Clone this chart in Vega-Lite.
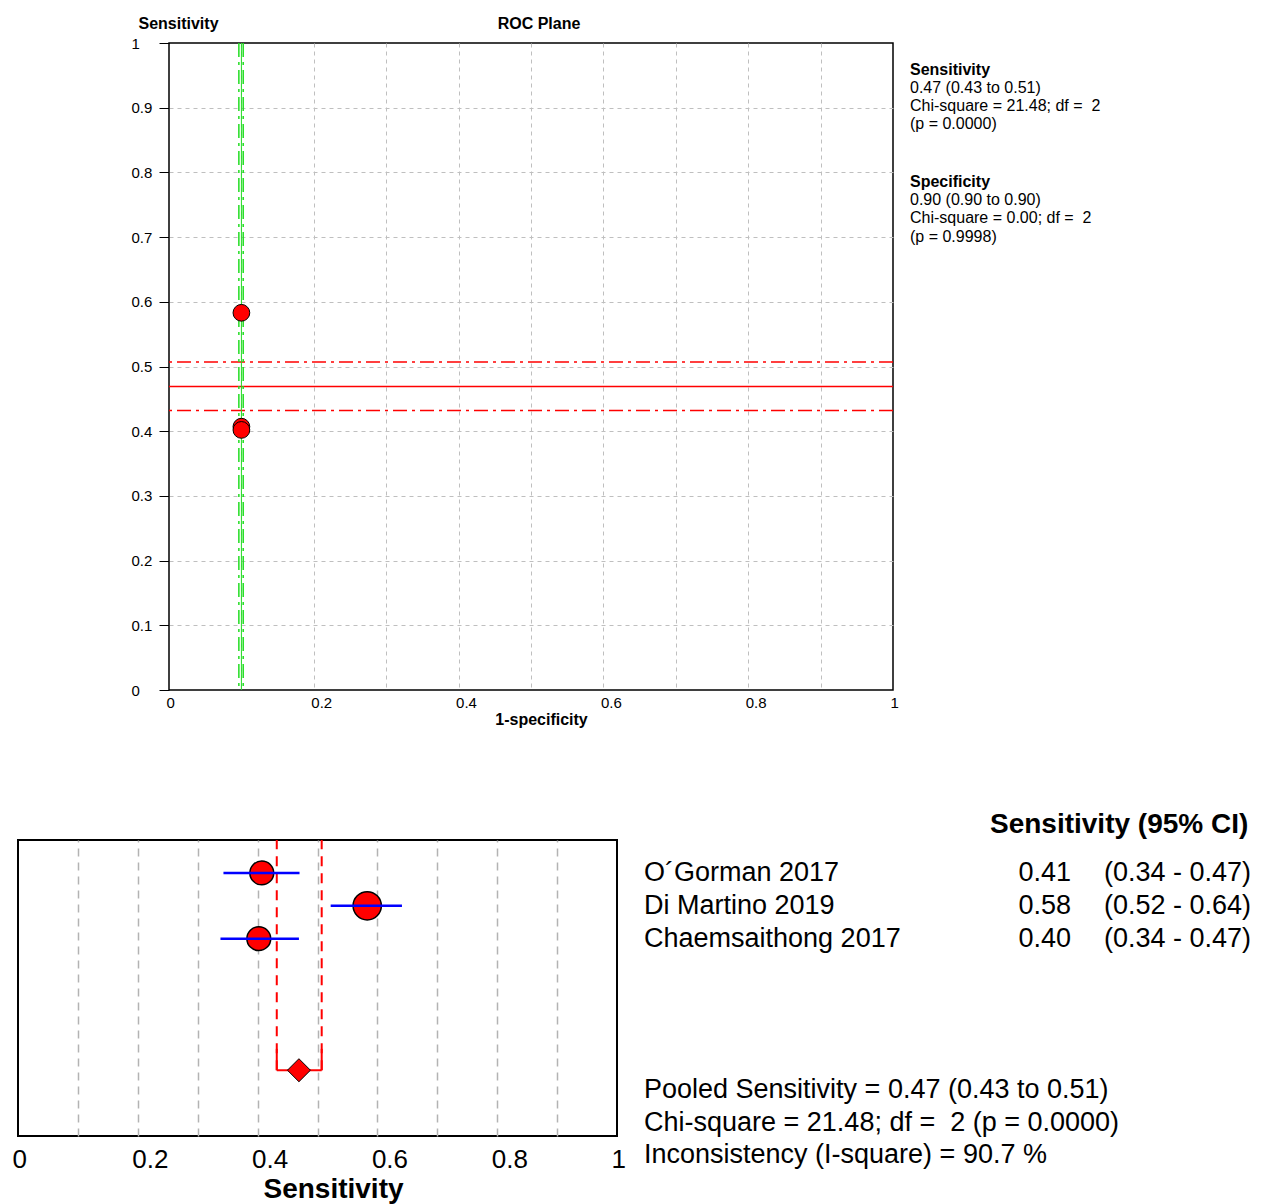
{
  "$schema": "https://vega.github.io/schema/vega-lite/v6.json",
  "padding": {"left": 11, "top": 14, "right": 0, "bottom": 0},
  "background": "white",
  "config": {
    "font": "Liberation Sans",
    "axis": {"labelColor": "#000", "titleColor": "#000", "domain": false},
    "view": {"stroke": null}
  },
  "datasets": {
    "studies": [
      {"study": "O´Gorman 2017", "row": 1, "sens": 0.407, "lo": 0.343, "hi": 0.470, "est": "0.41", "ci": "(0.34 - 0.47)", "fpr": 0.10, "weight": 0.71},
      {"study": "Di Martino 2019", "row": 2, "sens": 0.583, "lo": 0.522, "hi": 0.641, "est": "0.58", "ci": "(0.52 - 0.64)", "fpr": 0.10, "weight": 1.0},
      {"study": "Chaemsaithong 2017", "row": 3, "sens": 0.402, "lo": 0.338, "hi": 0.469, "est": "0.40", "ci": "(0.34 - 0.47)", "fpr": 0.10, "weight": 0.71}
    ],
    "pooled": [
      {"row": 7, "sens": 0.469, "lo": 0.432, "hi": 0.507, "fpr": 0.100, "fpr_lo": 0.0965, "fpr_hi": 0.1025}
    ],
    "roc_notes": [
      {"line": 0, "bold": true, "text": "Sensitivity"},
      {"line": 1, "bold": false, "text": "0.47 (0.43 to 0.51)"},
      {"line": 2, "bold": false, "text": "Chi-square = 21.48; df = \u00a02"},
      {"line": 3, "bold": false, "text": "\u00a0(p = 0.0000)"},
      {"line": 6.25, "bold": true, "text": "Specificity"},
      {"line": 7.25, "bold": false, "text": "0.90 (0.90 to 0.90)"},
      {"line": 8.25, "bold": false, "text": "Chi-square = 0.00; df = \u00a02"},
      {"line": 9.3, "bold": false, "text": "\u00a0(p = 0.9998)"}
    ],
    "table_header": [
      {"row": -0.46, "text": "Sensitivity (95% CI)"}
    ],
    "pooled_notes": [
      {"row": 7.6, "text": "Pooled Sensitivity = 0.47 (0.43 to 0.51)"},
      {"row": 8.6, "text": "Chi-square = 21.48; df = \u00a02 (p = 0.0000)"},
      {"row": 9.58, "text": "Inconsistency (I-square) = 90.7 %"}
    ]
  },
  "spacing": 82,
  "vconcat": [
    {
      "spacing": 10,
      "hconcat": [
        {
          "data": {"name": "pooled"},
          "width": 102,
          "height": 10,
          "view": {"stroke": null},
          "mark": {"type": "text", "text": ""},
          "encoding": {
            "x": {"datum": 0, "type": "quantitative", "scale": {"domain": [0, 1]}, "axis": null},
            "y": {"datum": 0, "type": "quantitative", "scale": {"domain": [0, 1]}, "axis": null}
          }
        },
        {
          "width": 724,
          "height": 647,
          "view": {"stroke": "#000", "strokeWidth": 1.5},
          "title": {"text": "ROC Plane", "fontSize": 16, "fontWeight": "bold", "frame": "group", "anchor": "middle", "dx": 8, "offset": -17, "color": "#000"},
          "layer": [
            {
              "data": {"name": "studies"},
              "mark": {"type": "point", "shape": "circle", "opacity": 0},
              "encoding": {
                "x": {
                  "field": "fpr", "type": "quantitative", "scale": {"domain": [0, 1], "nice": false},
                  "axis": {
                    "title": "1-specificity",
                    "values": [0, 0.1, 0.2, 0.3, 0.4, 0.5, 0.6, 0.7, 0.8, 0.9, 1],
                    "labelExpr": "abs(datum.value*10 - 2*round(datum.value*5)) < 0.01 ? format(datum.value, '.1~f') : ''",
                    "labelAlign": "left", "labelOffset": -3, "labelFlush": false, "labelOverlap": false,
                    "labelPadding": 5, "ticks": false, "tickSize": 0, "labelFontSize": 15,
                    "titleFontSize": 16, "titleFontWeight": "bold", "titleX": 372, "titleY": 29, "titleBaseline": "middle",
                    "grid": true, "gridColor": "#bfbfbf", "gridDash": [4, 4], "gridWidth": 1,
                    "gridOpacity": {"condition": {"test": "datum.value < 0.01 || datum.value > 0.99", "value": 0}, "value": 1}
                  }
                },
                "y": {
                  "field": "sens", "type": "quantitative", "scale": {"domain": [0, 1], "nice": false},
                  "axis": {
                    "title": "Sensitivity",
                    "values": [0, 0.1, 0.2, 0.3, 0.4, 0.5, 0.6, 0.7, 0.8, 0.9, 1],
                    "format": ".1~f",
                    "labelAlign": "left", "labelPadding": 28, "labelFontSize": 15, "labelFlush": false, "labelOverlap": false,
                    "ticks": true, "tickSize": 10, "tickColor": "#000", "tickWidth": 1,
                    "titleFontSize": 16, "titleFontWeight": "bold", "titleAngle": 0, "titleX": -31, "titleY": -20,
                    "titleAlign": "left", "titleBaseline": "middle",
                    "grid": true, "gridColor": "#bfbfbf", "gridDash": [4, 4], "gridWidth": 1,
                    "gridOpacity": {"condition": {"test": "datum.value < 0.01 || datum.value > 0.99", "value": 0}, "value": 1}
                  }
                }
              }
            },
            {
              "data": {"name": "pooled"},
              "mark": {"type": "rule", "color": "#ff0000", "strokeWidth": 1.5},
              "encoding": {"y": {"field": "sens", "type": "quantitative", "scale": {"domain": [0, 1], "nice": false}}}
            },
            {
              "data": {"name": "pooled"},
              "mark": {"type": "rule", "color": "#ff0000", "strokeWidth": 1.5, "strokeDash": [14, 5, 3, 5]},
              "encoding": {"y": {"field": "lo", "type": "quantitative", "scale": {"domain": [0, 1], "nice": false}}}
            },
            {
              "data": {"name": "pooled"},
              "mark": {"type": "rule", "color": "#ff0000", "strokeWidth": 1.5, "strokeDash": [14, 5, 3, 5]},
              "encoding": {"y": {"field": "hi", "type": "quantitative", "scale": {"domain": [0, 1], "nice": false}}}
            },
            {
              "data": {"name": "pooled"},
              "mark": {"type": "rule", "color": "#22dd22", "strokeWidth": 1},
              "encoding": {"x": {"field": "fpr", "type": "quantitative", "scale": {"domain": [0, 1], "nice": false}}}
            },
            {
              "data": {"name": "pooled"},
              "mark": {"type": "rule", "color": "#22dd22", "strokeWidth": 1.5, "strokeDash": [14, 5, 3, 5]},
              "encoding": {"x": {"field": "fpr_lo", "type": "quantitative", "scale": {"domain": [0, 1], "nice": false}}}
            },
            {
              "data": {"name": "pooled"},
              "mark": {"type": "rule", "color": "#22dd22", "strokeWidth": 1.5, "strokeDash": [14, 5, 3, 5]},
              "encoding": {"x": {"field": "fpr_hi", "type": "quantitative", "scale": {"domain": [0, 1], "nice": false}}}
            },
            {
              "data": {"name": "studies"},
              "mark": {"type": "point", "shape": "circle", "filled": true, "fill": "#ff0000", "stroke": "#000000", "strokeWidth": 1, "size": 280, "opacity": 1},
              "encoding": {
                "x": {"field": "fpr", "type": "quantitative", "scale": {"domain": [0, 1], "nice": false}},
                "y": {"field": "sens", "type": "quantitative", "scale": {"domain": [0, 1], "nice": false}}
              }
            }
          ]
        },
        {
          "width": 200,
          "height": 647,
          "view": {"stroke": null},
          "layer": [
            {
              "data": {"name": "roc_notes"},
              "transform": [{"filter": "datum.bold"}],
              "mark": {"type": "text", "align": "left", "baseline": "middle", "fontSize": 16, "fontWeight": "bold", "color": "#000"},
              "encoding": {
                "x": {"datum": 0, "type": "quantitative", "scale": {"domain": [0, 1]}, "axis": null},
                "y": {"field": "line", "type": "quantitative", "scale": {"domain": [-1.5, 34.5], "reverse": true, "nice": false, "zero": false}, "axis": null},
                "text": {"field": "text", "type": "nominal"}
              }
            },
            {
              "data": {"name": "roc_notes"},
              "transform": [{"filter": "!datum.bold"}],
              "mark": {"type": "text", "align": "left", "baseline": "middle", "fontSize": 16, "color": "#000"},
              "encoding": {
                "x": {"datum": 0, "type": "quantitative", "scale": {"domain": [0, 1]}, "axis": null},
                "y": {"field": "line", "type": "quantitative", "scale": {"domain": [-1.5, 34.5], "reverse": true, "nice": false, "zero": false}, "axis": null},
                "text": {"field": "text", "type": "nominal"}
              }
            }
          ]
        }
      ]
    },
    {
      "spacing": 17,
      "hconcat": [
        {
          "width": 599,
          "height": 296,
          "view": {"stroke": "#000", "strokeWidth": 2},
          "layer": [
            {
              "data": {"name": "studies"},
              "mark": {"type": "point", "shape": "circle", "opacity": 0},
              "encoding": {
                "x": {
                  "field": "sens", "type": "quantitative", "scale": {"domain": [0, 1], "nice": false},
                  "axis": {
                    "title": "Sensitivity",
                    "values": [0, 0.1, 0.2, 0.3, 0.4, 0.5, 0.6, 0.7, 0.8, 0.9, 1],
                    "labelExpr": "abs(datum.value*10 - 2*round(datum.value*5)) < 0.01 ? format(datum.value, '.1~f') : ''",
                    "labelAlign": "left", "labelOffset": -6, "labelFlush": false, "labelOverlap": false,
                    "labelPadding": 10, "ticks": false, "tickSize": 0, "labelFontSize": 26,
                    "titleFontSize": 28, "titleFontWeight": "bold", "titleX": 315, "titleY": 53, "titleBaseline": "middle",
                    "grid": true, "gridColor": "#b3b3b3", "gridDash": [8, 6], "gridWidth": 1.5,
                    "gridOpacity": {"condition": {"test": "datum.value < 0.01 || datum.value > 0.99", "value": 0}, "value": 1}
                  }
                },
                "y": {"field": "row", "type": "quantitative", "scale": {"domain": [0, 9], "reverse": true, "nice": false}, "axis": null}
              }
            },
            {
              "data": {"name": "pooled"},
              "mark": {"type": "rule", "color": "#ff0000", "strokeWidth": 2, "strokeDash": [10, 7]},
              "encoding": {
                "x": {"field": "lo", "type": "quantitative", "scale": {"domain": [0, 1], "nice": false}},
                "y": {"field": "row", "type": "quantitative", "scale": {"domain": [0, 9], "reverse": true, "nice": false}, "axis": null},
                "y2": {"datum": 0}
              }
            },
            {
              "data": {"name": "pooled"},
              "mark": {"type": "rule", "color": "#ff0000", "strokeWidth": 2, "strokeDash": [10, 7]},
              "encoding": {
                "x": {"field": "hi", "type": "quantitative", "scale": {"domain": [0, 1], "nice": false}},
                "y": {"field": "row", "type": "quantitative", "scale": {"domain": [0, 9], "reverse": true, "nice": false}, "axis": null},
                "y2": {"datum": 0}
              }
            },
            {
              "data": {"name": "pooled"},
              "mark": {"type": "rule", "color": "#ff0000", "strokeWidth": 2},
              "encoding": {
                "x": {"field": "lo", "type": "quantitative", "scale": {"domain": [0, 1], "nice": false}},
                "y": {"field": "row", "type": "quantitative", "scale": {"domain": [0, 9], "reverse": true, "nice": false}, "axis": null},
                "y2": {"datum": 6.35}
              }
            },
            {
              "data": {"name": "pooled"},
              "mark": {"type": "rule", "color": "#ff0000", "strokeWidth": 2},
              "encoding": {
                "x": {"field": "hi", "type": "quantitative", "scale": {"domain": [0, 1], "nice": false}},
                "y": {"field": "row", "type": "quantitative", "scale": {"domain": [0, 9], "reverse": true, "nice": false}, "axis": null},
                "y2": {"datum": 6.35}
              }
            },
            {
              "data": {"name": "pooled"},
              "mark": {"type": "rule", "color": "#ff0000", "strokeWidth": 2},
              "encoding": {
                "x": {"field": "lo", "type": "quantitative", "scale": {"domain": [0, 1], "nice": false}},
                "x2": {"field": "hi"},
                "y": {"field": "row", "type": "quantitative", "scale": {"domain": [0, 9], "reverse": true, "nice": false}, "axis": null}
              }
            },
            {
              "data": {"name": "studies"},
              "mark": {"type": "point", "shape": "circle", "filled": true, "fill": "#ff0000", "stroke": "#000000", "strokeWidth": 1.5, "opacity": 1},
              "encoding": {
                "x": {"field": "sens", "type": "quantitative", "scale": {"domain": [0, 1], "nice": false}},
                "y": {"field": "row", "type": "quantitative", "scale": {"domain": [0, 9], "reverse": true, "nice": false}, "axis": null},
                "size": {"field": "weight", "type": "quantitative", "scale": {"domain": [0, 1], "range": [0, 800], "zero": true}, "legend": null}
              }
            },
            {
              "data": {"name": "studies"},
              "mark": {"type": "rule", "color": "#0000ff", "strokeWidth": 2.5},
              "encoding": {
                "x": {"field": "lo", "type": "quantitative", "scale": {"domain": [0, 1], "nice": false}},
                "x2": {"field": "hi"},
                "y": {"field": "row", "type": "quantitative", "scale": {"domain": [0, 9], "reverse": true, "nice": false}, "axis": null}
              }
            },
            {
              "data": {"name": "pooled"},
              "mark": {"type": "point", "shape": "diamond", "filled": true, "fill": "#ff0000", "stroke": "#000000", "strokeWidth": 1, "size": 530, "opacity": 1},
              "encoding": {
                "x": {"field": "sens", "type": "quantitative", "scale": {"domain": [0, 1], "nice": false}},
                "y": {"field": "row", "type": "quantitative", "scale": {"domain": [0, 9], "reverse": true, "nice": false}, "axis": null}
              }
            }
          ]
        },
        {
          "width": 613,
          "height": 296,
          "view": {"stroke": null},
          "layer": [
            {
              "data": {"name": "table_header"},
              "mark": {"type": "text", "align": "left", "baseline": "middle", "fontSize": 28, "fontWeight": "bold", "color": "#000"},
              "encoding": {
                "x": {"datum": 0.5644, "type": "quantitative", "scale": {"domain": [0, 1]}, "axis": null},
                "y": {"field": "row", "type": "quantitative", "scale": {"domain": [0, 9], "reverse": true, "nice": false, "zero": false}, "axis": null},
                "text": {"field": "text", "type": "nominal"}
              }
            },
            {
              "data": {"name": "studies"},
              "mark": {"type": "text", "align": "left", "baseline": "middle", "fontSize": 27, "color": "#000"},
              "encoding": {
                "x": {"datum": 0, "type": "quantitative", "scale": {"domain": [0, 1]}, "axis": null},
                "y": {"field": "row", "type": "quantitative", "scale": {"domain": [0, 9], "reverse": true, "nice": false, "zero": false}, "axis": null},
                "text": {"field": "study", "type": "nominal"}
              }
            },
            {
              "data": {"name": "studies"},
              "mark": {"type": "text", "align": "right", "baseline": "middle", "fontSize": 27, "color": "#000"},
              "encoding": {
                "x": {"datum": 0.6966, "type": "quantitative", "scale": {"domain": [0, 1]}, "axis": null},
                "y": {"field": "row", "type": "quantitative", "scale": {"domain": [0, 9], "reverse": true, "nice": false, "zero": false}, "axis": null},
                "text": {"field": "est", "type": "nominal"}
              }
            },
            {
              "data": {"name": "studies"},
              "mark": {"type": "text", "align": "left", "baseline": "middle", "fontSize": 27, "color": "#000"},
              "encoding": {
                "x": {"datum": 0.7504, "type": "quantitative", "scale": {"domain": [0, 1]}, "axis": null},
                "y": {"field": "row", "type": "quantitative", "scale": {"domain": [0, 9], "reverse": true, "nice": false, "zero": false}, "axis": null},
                "text": {"field": "ci", "type": "nominal"}
              }
            },
            {
              "data": {"name": "pooled_notes"},
              "mark": {"type": "text", "align": "left", "baseline": "middle", "fontSize": 27, "color": "#000"},
              "encoding": {
                "x": {"datum": 0, "type": "quantitative", "scale": {"domain": [0, 1]}, "axis": null},
                "y": {"field": "row", "type": "quantitative", "scale": {"domain": [0, 9], "reverse": true, "nice": false, "zero": false}, "axis": null},
                "text": {"field": "text", "type": "nominal"}
              }
            }
          ]
        }
      ]
    }
  ]
}
